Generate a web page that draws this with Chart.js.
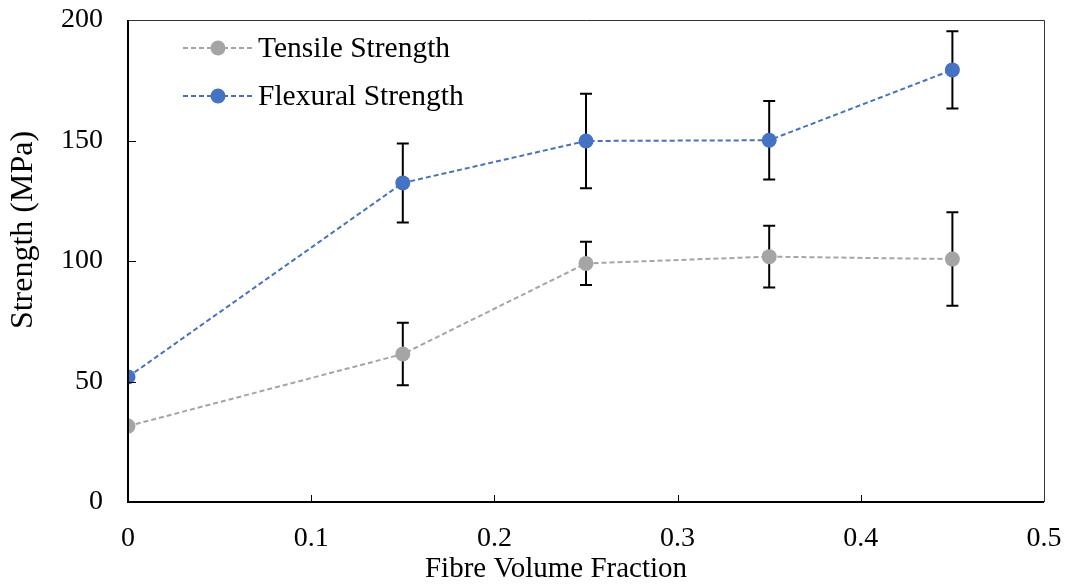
<!DOCTYPE html>
<html>
<head>
<meta charset="utf-8">
<script src="https://cdn.jsdelivr.net/npm/chart.js@4"></script>
<style>
  html, body { margin: 0; padding: 0; background: #fff; }
  #wrap { width: 1068px; height: 588px; }
</style>
</head>
<body>
<div id="wrap"><canvas id="strengthChart" width="1068" height="588"></canvas></div>
<script>
// data
const fractions = [0, 0.15, 0.25, 0.35, 0.45];
const tensile = [31.5, 61.4, 99.0, 101.8, 100.8];
const tensileErr = [0, 13.0, 9.0, 12.8, 19.4];
const flexural = [51.9, 132.4, 149.8, 150.1, 179.3];
const flexuralErr = [0, 16.4, 19.6, 16.3, 16.0];
const xTicks = [0, 0.1, 0.2, 0.3, 0.4, 0.5];
const yTicks = [0, 50, 100, 150, 200];
const xTitle = "Fibre Volume Fraction";
const yTitle = "Strength (MPa)";

const FONT = "'Liberation Serif', 'Times New Roman', serif";
const GREY = "#A5A5A5";
const BLUE = "#4472C4";

function toPoints(xs, ys) {
    return xs.map((x, i) => ({ x: x, y: ys[i] }));
}

// error bars, frame, inward ticks, axis titles and legend
const extras = {
    id: "extras",
    beforeDatasetsDraw(chart) {
        const ctx = chart.ctx;
        const xs = chart.scales.x, ys = chart.scales.y;
        ctx.save();
        ctx.strokeStyle = "#000";
        ctx.lineWidth = 2;
        [[tensile, tensileErr], [flexural, flexuralErr]].forEach(([vals, errs]) => {
            vals.forEach((v, i) => {
                if (!errs[i]) return;
                const px = xs.getPixelForValue(fractions[i]);
                const top = ys.getPixelForValue(v + errs[i]);
                const bot = ys.getPixelForValue(v - errs[i]);
                ctx.beginPath();
                ctx.moveTo(px, top); ctx.lineTo(px, bot);
                ctx.moveTo(px - 6, top); ctx.lineTo(px + 6, top);
                ctx.moveTo(px - 6, bot); ctx.lineTo(px + 6, bot);
                ctx.stroke();
            });
        });
        ctx.restore();
    },
    afterDraw(chart) {
        const ctx = chart.ctx;
        const a = chart.chartArea;
        const xs = chart.scales.x, ys = chart.scales.y;
        ctx.save();
        // thin top / right frame
        ctx.strokeStyle = "#333";
        ctx.lineWidth = 1;
        ctx.beginPath();
        ctx.moveTo(a.left, a.top + 0.5); ctx.lineTo(a.right + 0.5, a.top + 0.5);
        ctx.lineTo(a.right + 0.5, a.bottom);
        ctx.stroke();
        // axes
        ctx.strokeStyle = "#000";
        ctx.lineWidth = 2;
        ctx.beginPath();
        ctx.moveTo(a.left, a.top); ctx.lineTo(a.left, a.bottom);
        ctx.lineTo(a.right, a.bottom);
        ctx.stroke();
        // inward ticks
        ctx.lineWidth = 1;
        ctx.beginPath();
        xTicks.slice(1, -1).forEach(t => {
            const px = Math.round(xs.getPixelForValue(t)) + 0.5;
            ctx.moveTo(px, a.bottom); ctx.lineTo(px, a.bottom - 7);
        });
        yTicks.slice(1, -1).forEach(t => {
            const py = Math.round(ys.getPixelForValue(t)) + 0.5;
            ctx.moveTo(a.left, py); ctx.lineTo(a.left + 8, py);
        });
        ctx.stroke();

        // axis titles
        ctx.fillStyle = "#000";
        ctx.textAlign = "center";
        ctx.textBaseline = "middle";
        ctx.font = "29px " + FONT;
        ctx.fillText(xTitle, 556, 569);
        ctx.save();
        ctx.translate(24, 230);
        ctx.rotate(-Math.PI / 2);
        ctx.font = "32px " + FONT;
        ctx.fillText(yTitle, 0, 0);
        ctx.restore();

        // legend
        ctx.textAlign = "left";
        ctx.font = "29.5px " + FONT;
        chart.data.datasets.forEach((ds, i) => {
            const y = 48 + i * 48;
            ctx.strokeStyle = ds.borderColor;
            ctx.lineWidth = 2;
            ctx.setLineDash([5, 3]);
            ctx.beginPath();
            ctx.moveTo(183, y); ctx.lineTo(253, y);
            ctx.stroke();
            ctx.setLineDash([]);
            ctx.fillStyle = ds.backgroundColor;
            ctx.beginPath();
            ctx.arc(218, y, 7.5, 0, Math.PI * 2);
            ctx.fill();
            ctx.fillStyle = "#000";
            ctx.fillText(ds.label, 258, y + 1);
        });
        ctx.restore();
    }
};

new Chart(document.getElementById("strengthChart"), {
    type: "scatter",
    data: {
        datasets: [
            {
                label: "Tensile Strength",
                data: toPoints(fractions, tensile),
                showLine: true,
                borderColor: GREY,
                backgroundColor: GREY,
                borderWidth: 2,
                borderDash: [5, 3],
                pointRadius: 7.5,
                pointBorderWidth: 0
            },
            {
                label: "Flexural Strength",
                data: toPoints(fractions, flexural),
                showLine: true,
                borderColor: BLUE,
                backgroundColor: BLUE,
                borderWidth: 2,
                borderDash: [5, 3],
                pointRadius: 7.5,
                pointBorderWidth: 0
            }
        ]
    },
    options: {
        responsive: false,
        animation: false,
        layout: { padding: { top: 20, right: 24, left: 0, bottom: 0 } },
        plugins: {
            legend: { display: false },
            tooltip: { enabled: false }
        },
        scales: {
            x: {
                type: "linear",
                min: 0,
                max: 0.5,
                afterBuildTicks: s => { s.ticks = xTicks.map(v => ({ value: v })); },
                afterFit: s => { s.height = 86; s.paddingLeft = 0; s.paddingRight = 0; },
                grid: { display: false, drawTicks: false },
                border: { display: false },
                ticks: {
                    color: "#000",
                    padding: 20,
                    maxRotation: 0,
                    font: { family: FONT, size: 28 }
                },
                title: { display: false }
            },
            y: {
                min: 0,
                max: 200,
                afterBuildTicks: s => { s.ticks = yTicks.map(v => ({ value: v })); },
                afterFit: s => { s.width = 128; s.paddingTop = 0; s.paddingBottom = 0; },
                grid: { display: false, drawTicks: false },
                border: { display: false },
                ticks: {
                    color: "#000",
                    padding: 25,
                    font: { family: FONT, size: 28 }
                },
                title: { display: false }
            }
        }
    },
    plugins: [extras]
});
</script>
</body>
</html>
